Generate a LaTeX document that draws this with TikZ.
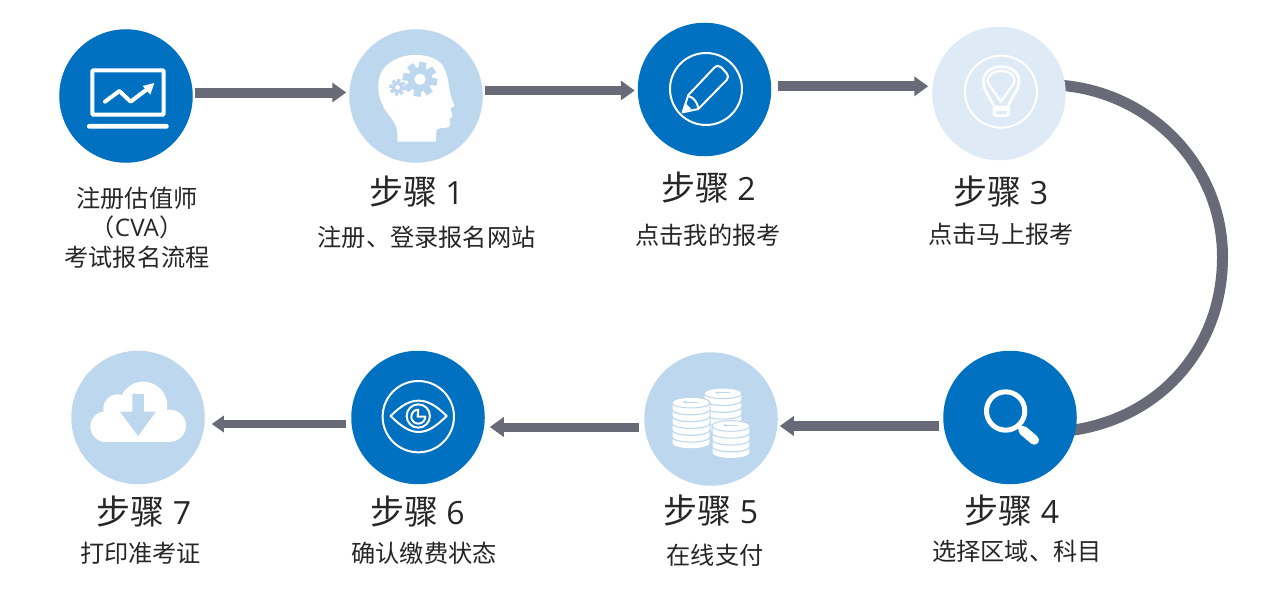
\documentclass[tikz,border=0pt]{standalone}
\usepackage{fontspec}
\usetikzlibrary{arrows.meta}
\setmainfont{Noto Sans CJK SC}
\newfontfamily\latinf{Open Sans}
\definecolor{dblue}{HTML}{0070C0}
\definecolor{lblue}{HTML}{BDD7EE}
\definecolor{pblue}{HTML}{DEEAF6}
\definecolor{slate}{HTML}{686A78}
\definecolor{ink}{HTML}{262626}
\pgfdeclarelayer{under}
\pgfsetlayers{under,main}
\tikzset{
  disc/.style={circle,minimum size=133.5pt,inner sep=0pt,outer sep=0pt},
  darkdisc/.style={disc,fill=dblue},
  lightdisc/.style={disc,fill=lblue},
  paledisc/.style={disc,fill=pblue},
  flow/.style={draw=slate,line width=#1,-{Triangle[length=14pt,width=19pt]}},
  flow/.default=10pt,
  steplabel/.style={text=ink,font=\fontsize{34}{38}\selectfont,inner sep=0pt},
  sublabel/.style={text=ink,font=\fontsize{24.2}{28}\selectfont,inner sep=0pt},
  zoomed/.style 2 args={shift={(#1,#2)},x=0.3333pt,y=-0.3333pt},
  lineicon/.style={draw=white,line width=2pt,line join=round},
}
\newcommand{\steptext}[1]{步骤\hspace{0.24em}{\latinf\fontsize{32}{38}\selectfont #1}}
\newcommand{\gearicon}[6]{% x y outer inner hole teeth
  \fill[lblue] (#1,#2) circle[radius=#4];
  \foreach \ga in {1,...,#6}{
    \draw[lblue,line width=#3*0.14pt] (#1,#2) -- ++({\ga*360/#6+10}:#3);
  }
  \fill[white] (#1,#2) circle[radius=#5];
}
\newcommand{\coinstack}[3]{% cx topy layers
  \pgfmathsetmacro{\cb}{#2+#3*20.5}
  \path[fill=white,draw=lblue,line width=1pt] (#1-57,#2) -- (#1-57,\cb) arc[x radius=57,y radius=16,start angle=180,end angle=0] -- (#1+57,#2) arc[x radius=57,y radius=16,start angle=0,end angle=-180] -- cycle;
  \draw[lblue,line width=1pt] (#1-57,#2) arc[x radius=57,y radius=16,start angle=180,end angle=0];
  \foreach \cl in {1,...,#3}{
    \draw[lblue,line width=1.1pt] (#1-57,#2+\cl*20.5) arc[x radius=57,y radius=16,start angle=180,end angle=0];
  }
  \draw[lblue,line width=0.9pt] (#1-22,#2-2) -- (#1+20,#2-2);
  \fill[lblue] (#1-24,#2-2) -- (#1-14,#2-6) -- (#1-14,#2+2) -- cycle;
}
\begin{document}
\begin{tikzpicture}[x=1pt,y=-1pt]
\useasboundingbox (0,0) rectangle (1279,610);

\node[darkdisc]  (c0) at (126,96) {};
\node[lightdisc] (c1) at (416,96) {};
\node[darkdisc]  (c2) at (704.5,89.5) {};
\node[paledisc]  (c3) at (999,93.5) {};
\node[darkdisc]  (c4) at (1010,417.5) {};
\node[lightdisc] (c5) at (711,419) {};
\node[darkdisc]  (c6) at (418,417.5) {};
\node[lightdisc] (c7) at (138,417.5) {};

\coordinate (arcmid) at (1222.5,257);
\begin{pgfonlayer}{under}
\draw[slate,line width=11pt] ([xshift=-3pt]c3.7) .. controls +(90,8) and +(0,-90) .. (arcmid) .. controls +(0,90) and +(89,-13) .. ([xshift=-3pt]c4.-11);
\end{pgfonlayer}

\draw[flow] ([xshift=2pt,yshift=3.5pt]c0.east) -- ([xshift=-3pt,yshift=3.5pt]c1.west);
\draw[flow=9pt] ([xshift=2pt,yshift=5.5pt]c1.east) -- ([xshift=-3pt,yshift=-1pt]c2.west);
\draw[flow] ([xshift=7pt,yshift=3.2pt]c2.east) -- ([xshift=-4pt,yshift=7.2pt]c3.west);
\draw[flow] ([xshift=-4pt,yshift=-8.5pt]c4.west) -- ([xshift=2pt,yshift=-7pt]c5.east);
\draw[flow=9pt] ([xshift=-5pt,yshift=-8pt]c5.west) -- ([xshift=5pt,yshift=-9.5pt]c6.east);
\draw[draw=slate,line width=8pt,-{Triangle[length=12pt,width=16pt]}] ([xshift=-5pt,yshift=-6.5pt]c6.west) -- ([xshift=7pt,yshift=-6.5pt]c7.east);

% laptop
\begin{scope}[zoomed={40}{20}]
  \draw[white,line width=4pt,rounded corners=1pt] (157,151) rectangle (371,284);
  \fill[white,rounded corners=2pt] (141,312) rectangle (386,326);
  \draw[white,line width=4pt,line cap=round,line join=round] (195,245) -- (238,213) -- (272,245) -- (325,205);
  \fill[white] (343,189) -- (308,198) -- (331,224) -- cycle;
\end{scope}

% head with gears
\begin{scope}[zoomed={40}{20}]
  \fill[white] (1072,365) -- (1072,335) .. controls (1068,300) and (1040,285) .. (1028,255)
    .. controls (1015,230) and (1010,195) .. (1020,165)
    .. controls (1035,125) and (1085,103) .. (1130,105)
    .. controls (1170,105) and (1205,120) .. (1215,150)
    .. controls (1225,170) and (1228,210) .. (1232,225)
    -- (1243,258) -- (1232,265) -- (1237,290) -- (1228,298) -- (1232,312) -- (1225,322)
    .. controls (1210,325) and (1195,322) .. (1190,330) -- (1187,365) -- cycle;
  \gearicon{1140}{178}{52}{37}{17}{8}
  \gearicon{1073}{202}{25}{17}{7}{8}
\end{scope}

% pencil
\begin{scope}[zoomed={620}{15}]
  \draw[lineicon] (258,222) circle[radius=108];
  \draw[lineicon] (188,292) -- (205,240) -- (283,158) .. controls (292,150) and (298,152) .. (305,158)
    -- (320,175) .. controls (326,182) and (326,188) .. (320,195) -- (235,282) -- cycle;
  \draw[lineicon] (205,243) .. controls (222,248) and (232,262) .. (235,280);
  \fill[white] (188,292) -- (197,265) -- (214,282) -- cycle;
\end{scope}

% bulb
\begin{scope}[zoomed={620}{15}]
  \draw[lineicon] (1143,230) circle[radius=108];
  \draw[white,line width=2.7pt] (1122,272) -- (1104,240) .. controls (1096,226) and (1090,215) .. (1090,198) .. controls (1090,172) and (1115,155) .. (1143,155) .. controls (1172,155) and (1197,172) .. (1197,198) .. controls (1197,215) and (1190,226) .. (1182,240) -- (1164,272);
  \draw[white,line width=2.2pt] (1143,260) -- (1115,220) .. controls (1108,210) and (1103,205) .. (1103,196) .. controls (1103,178) and (1122,168) .. (1143,168) .. controls (1164,168) and (1184,178) .. (1184,196) .. controls (1184,205) and (1178,210) .. (1171,220) -- cycle;
  \fill[white,rounded corners=3pt] (1118,272) rectangle (1170,306);
  \fill[pblue,rounded corners=2pt] (1127,288) rectangle (1161,298);
\end{scope}

% magnifier
\begin{scope}[zoomed={630}{340}]
  \draw[white,line width=5pt] (1127,213) circle[radius=57.5];
  \draw[white,line width=5pt] (1165,258) -- (1182,274);
  \draw[white,line width=9.5pt,line cap=round] (1180,272) -- (1213,300);
\end{scope}

% coins
\begin{scope}[zoomed={630}{340}]
  \coinstack{279}{160}{5}
  \coinstack{183}{188}{6}
  \coinstack{303}{258}{4}
\end{scope}

% eye
\begin{scope}[zoomed={60}{340}]
  \draw[lineicon] (1075,230) circle[radius=107];
  \draw[lineicon] (992,228) .. controls (1025,195) and (1050,182) .. (1076,182) .. controls (1102,182) and (1127,195) .. (1160,228) .. controls (1127,261) and (1102,276) .. (1076,276) .. controls (1050,276) and (1025,261) .. (992,228) -- cycle;
  \draw[lineicon] (1075,228) circle[radius=35];
  \draw[lineicon] (1096,230) arc[radius=21,start angle=0,end angle=270] -- (1073,230) -- cycle;
\end{scope}

% cloud
\begin{scope}[zoomed={60}{340}]
  \fill[white] (137,260) circle[radius=46];
  \fill[white] (172,205) circle[radius=42];
  \fill[white] (250,197) circle[radius=72];
  \fill[white] (330,257) circle[radius=48];
  \fill[white] (137,230) rectangle (330,306);
  \fill[lblue] (217,162) -- (252,162) -- (252,215) -- (288,215) -- (234,288) -- (180,215) -- (217,215) -- cycle;
\end{scope}

% texts
\node[sublabel] (t0a) at (137,198) {注册估值师};
\node[sublabel] (t0b) at (137,227) {（{\latinf CVA}）};
\node[sublabel] (t0c) at (137,257) {考试报名流程};
\node[steplabel] (s1) at (416.5,192) {\steptext{1}};
\node[sublabel] (d1) at (426.5,237) {注册、登录报名网站};
\node[steplabel] (s2) at (708.5,188) {\steptext{2}};
\node[sublabel] (d2) at (708,235) {点击我的报考};
\node[steplabel] (s3) at (1001,192) {\steptext{3}};
\node[sublabel] (d3) at (1001,234) {点击马上报考};
\node[steplabel] (s4) at (1012,511) {\steptext{4}};
\node[sublabel] (d4) at (1017,551) {选择区域、科目};
\node[steplabel] (s5) at (711,511) {\steptext{5}};
\node[sublabel] (d5) at (715,555) {在线支付};
\node[steplabel] (s6) at (417.5,512) {\steptext{6}};
\node[sublabel] (d6) at (424,553) {确认缴费状态};
\node[steplabel] (s7) at (144,512) {\steptext{7}};
\node[sublabel] (d7) at (140.5,553) {打印准考证};
\end{tikzpicture}
\end{document}
